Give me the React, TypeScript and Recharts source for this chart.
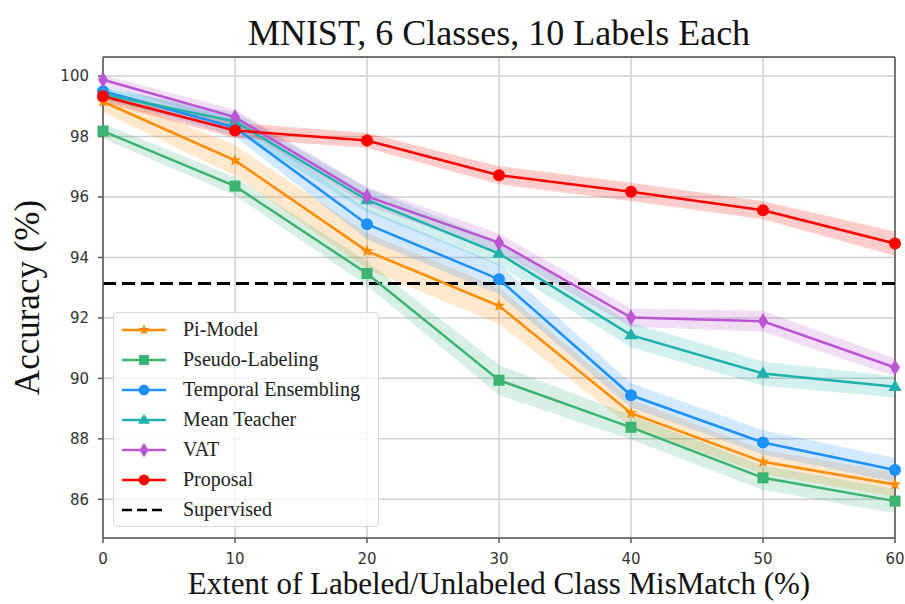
import React from 'react';
import {
  ComposedChart,
  Line,
  Area,
  XAxis,
  YAxis,
  CartesianGrid,
  ReferenceLine
} from 'recharts';

// mismatch extent (%)
const xs = [0, 10, 20, 30, 40, 50, 60];

// accuracy (%) per method
const piModel = [99.15, 97.21, 94.21, 92.4, 88.85, 87.24, 86.49];
const pseudoLabeling = [98.18, 96.36, 93.47, 89.94, 88.38, 86.71, 85.94];
const temporalEnsembling = [99.5, 98.3, 95.1, 93.28, 89.44, 87.88, 86.97];
const meanTeacher = [99.4, 98.5, 95.9, 94.13, 91.43, 90.16, 89.72];
const vat = [99.88, 98.64, 96.02, 94.49, 92.01, 91.89, 90.36];
const proposal = [99.33, 98.2, 97.87, 96.72, 96.17, 95.56, 94.46];
const supervised = 93.14;

// half width of the shaded band around each curve
const piSpread = [0.35, 0.5, 0.6, 0.6, 0.45, 0.4, 0.4];
const pseudoSpread = [0.25, 0.3, 0.4, 0.5, 0.4, 0.4, 0.4];
const temporalSpread = [0.2, 0.3, 0.5, 0.5, 0.4, 0.4, 0.4];
const meanSpread = [0.2, 0.3, 0.4, 0.4, 0.4, 0.4, 0.35];
const vatSpread = [0.15, 0.25, 0.3, 0.3, 0.3, 0.35, 0.3];
const proposalSpread = [0.2, 0.25, 0.25, 0.3, 0.3, 0.3, 0.4];

const xTicks = [0, 10, 20, 30, 40, 50, 60];
const yTicks = [86, 88, 90, 92, 94, 96, 98, 100];
const yMin = 84.72;
const yMax = 100.63;

type Shape = 'star' | 'square' | 'circle' | 'triangle' | 'diamond';

const series: { key: string; name: string; color: string; shape: Shape; values: number[]; spread: number[] }[] = [
  { key: 'pi', name: 'Pi-Model', color: '#ff8c00', shape: 'star', values: piModel, spread: piSpread },
  { key: 'pseudo', name: 'Pseudo-Labeling', color: '#3cb371', shape: 'square', values: pseudoLabeling, spread: pseudoSpread },
  { key: 'temporal', name: 'Temporal Ensembling', color: '#1e90ff', shape: 'circle', values: temporalEnsembling, spread: temporalSpread },
  { key: 'mean', name: 'Mean Teacher', color: '#20b2aa', shape: 'triangle', values: meanTeacher, spread: meanSpread },
  { key: 'vat', name: 'VAT', color: '#ba55d3', shape: 'diamond', values: vat, spread: vatSpread },
  { key: 'proposal', name: 'Proposal', color: '#ff0000', shape: 'circle', values: proposal, spread: proposalSpread }
];

const data = xs.map((x, i) => {
  const row: Record<string, any> = { x };
  series.forEach((s) => {
    row[s.key] = s.values[i];
    row[s.key + 'Band'] = [s.values[i] - s.spread[i], s.values[i] + s.spread[i]];
  });
  return row;
});

const serif = '"Liberation Serif", "Times New Roman", serif';
const sans = '"DejaVu Sans", sans-serif';

const Marker = ({ cx, cy, shape, color, scale = 1 }: { cx: number; cy: number; shape: Shape; color: string; scale?: number }) => {
  if (cx == null || cy == null) return null;
  if (shape === 'circle') return <circle cx={cx} cy={cy} r={6 * scale} fill={color} />;
  if (shape === 'square') {
    const h = 5.5 * scale;
    return <rect x={cx - h} y={cy - h} width={2 * h} height={2 * h} fill={color} />;
  }
  if (shape === 'triangle') {
    const r = 7 * scale;
    return <polygon points={`${cx},${cy - r} ${cx - r * 0.95},${cy + r * 0.6} ${cx + r * 0.95},${cy + r * 0.6}`} fill={color} />;
  }
  if (shape === 'diamond') {
    const w = 5 * scale;
    const h = 8 * scale;
    return <polygon points={`${cx},${cy - h} ${cx + w},${cy} ${cx},${cy + h} ${cx - w},${cy}`} fill={color} />;
  }
  // star
  const outer = 6.5 * scale;
  const inner = 2.7 * scale;
  const pts: string[] = [];
  for (let k = 0; k < 10; k++) {
    const r = k % 2 === 0 ? outer : inner;
    const a = -Math.PI / 2 + (k * Math.PI) / 5;
    pts.push(`${cx + r * Math.cos(a)},${cy + r * Math.sin(a)}`);
  }
  return <polygon points={pts.join(' ')} fill={color} />;
};

const LegendBox = () => (
  <div
    style={{
      position: 'absolute',
      left: 113,
      top: 312,
      width: 266,
      height: 215,
      background: 'rgba(255,255,255,0.8)',
      border: '1px solid #d8d8d8',
      borderRadius: 4,
      boxSizing: 'border-box'
    }}
  >
    <svg width={266} height={215}>
      {series.map((s, i) => {
        const y = 17 + i * 30;
        return (
          <g key={s.key}>
            <line x1={8} x2={52} y1={y} y2={y} stroke={s.color} strokeWidth={2.5} />
            <Marker cx={30} cy={y} shape={s.shape} color={s.color} scale={0.9} />
            <text x={69} y={y + 6} fontFamily={serif} fontSize={20} fill="#222">
              {s.name}
            </text>
          </g>
        );
      })}
      <line x1={8} x2={52} y1={197} y2={197} stroke="#000" strokeWidth={2.5} strokeDasharray="10 5" />
      <text x={69} y={203} fontFamily={serif} fontSize={20} fill="#222">
        Supervised
      </text>
    </svg>
  </div>
);

const App: React.FC = () => {
  return (
    <div style={{ position: 'absolute', left: 0, top: 0, width: 905, height: 604, background: '#fff' }}>
      <div
        style={{
          position: 'absolute',
          left: 103,
          width: 792,
          top: 13,
          textAlign: 'center',
          fontFamily: serif,
          fontSize: 36,
          color: '#111',
          lineHeight: '40px'
        }}
      >
        MNIST, 6 Classes, 10 Labels Each
      </div>
      <ComposedChart
        width={905}
        height={604}
        data={data}
        margin={{ top: 57, right: 10, bottom: 36, left: 43 }}
      >
        <CartesianGrid stroke="#cfcfcf" strokeWidth={1.5} />
        <XAxis
          dataKey="x"
          type="number"
          domain={[0, 60]}
          ticks={xTicks}
          height={30}
          tickSize={5}
          tickMargin={10}
          stroke="#555"
          strokeWidth={1.5}
          tick={{ fontFamily: sans, fontSize: 15, fill: '#333' }}
          label={{
            value: 'Extent of Labeled/Unlabeled Class MisMatch (%)',
            position: 'insideBottom',
            offset: -26,
            style: { fontFamily: serif, fontSize: 31, fill: '#111' }
          }}
        />
        <YAxis
          type="number"
          domain={[yMin, yMax]}
          ticks={yTicks}
          allowDataOverflow
          width={60}
          tickSize={5}
          tickMargin={9}
          stroke="#555"
          strokeWidth={1.5}
          tick={{ fontFamily: sans, fontSize: 15, fill: '#333' }}
          label={{
            value: 'Accuracy (%)',
            angle: -90,
            position: 'insideLeft',
            offset: -16,
            style: { fontFamily: serif, fontSize: 35, fill: '#111', textAnchor: 'middle' }
          }}
        />
        <ReferenceLine y={yMax} stroke="#555" strokeWidth={1.5} />
        <ReferenceLine x={60} stroke="#555" strokeWidth={1.5} />
        {series.map((s) => (
          <Area
            key={s.key + 'Band'}
            type="linear"
            dataKey={s.key + 'Band'}
            stroke="none"
            fill={s.color}
            fillOpacity={0.2}
            isAnimationActive={false}
            activeDot={false}
          />
        ))}
        <ReferenceLine y={supervised} stroke="#000" strokeWidth={3} strokeDasharray="13 6" />
        {series.map((s) => (
          <Line
            key={s.key}
            type="linear"
            dataKey={s.key}
            name={s.name}
            stroke={s.color}
            strokeWidth={2.5}
            dot={(p: any) => <Marker key={s.key + p.index} cx={p.cx} cy={p.cy} shape={s.shape} color={s.color} />}
            activeDot={false}
            isAnimationActive={false}
          />
        ))}
      </ComposedChart>
      <LegendBox />
    </div>
  );
};

export default App;
